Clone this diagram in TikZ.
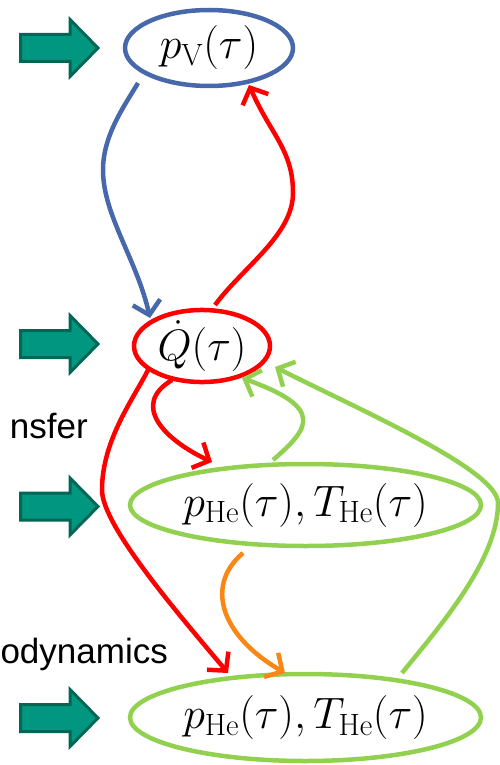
\RequirePackage{fix-cm}
\documentclass[tikz,border=0pt]{standalone}
\usepackage{fontspec}
\newfontfamily\labelfont{Liberation Sans}
\usetikzlibrary{arrows.meta,shapes.geometric,calc}
\definecolor{cblue}{RGB}{72,104,172}
\definecolor{cred}{RGB}{255,0,0}
\definecolor{cgreen}{RGB}{146,208,80}
\definecolor{corange}{RGB}{250,135,20}
\definecolor{tealfill}{RGB}{0,150,128}
\definecolor{tealedge}{RGB}{0,102,85}
\begin{document}
\begin{tikzpicture}[x=1pt,y=-1pt,
  state/.style={ellipse, draw, line width=4.5pt, inner sep=0pt, font=\fontsize{44}{50}\selectfont},
  conn/.style={line width=4.5pt, line cap=butt, -{Straight Barb[length=13pt,width=28pt]}},
  blockarrow/.style={fill=tealfill, draw=tealedge, line width=3pt, line join=miter},
  side/.style={font=\labelfont\fontsize{35}{40}\selectfont, anchor=base east, inner sep=0pt}]
\useasboundingbox (0,0) rectangle (500,765);

% block arrows
\foreach \c in {48,344,506.5,718}
  \draw[blockarrow, shift={(0,\c)}] (20.5,-13.5) -- (70,-13.5) -- (70,-28.5) -- (98,0) -- (70,28.5) -- (70,13.5) -- (20.5,13.5) -- cycle;

% side labels
\node[side] (ht) at (88,438) {nsfer};
\node[side] (td) at (168,663) {odynamics};

% states
\node[state, draw=cblue, minimum width=168pt, minimum height=76pt] (pv) at (209,48) {$p_{\mathrm{V}}(\tau)$};
\node[state, draw=cred, minimum width=136pt, minimum height=64pt] (q) at (202,346) {$\dot{Q}(\tau)$};
\node[state, draw=cgreen, minimum width=351pt, minimum height=82pt] (he1) at (305.5,505) {$p_{\mathrm{He}}(\tau),T_{\mathrm{He}}(\tau)$};
\node[state, draw=cgreen, minimum width=351pt, minimum height=87pt] (he2) at (305.5,717.5) {$p_{\mathrm{He}}(\tau),T_{\mathrm{He}}(\tau)$};

% connectors
\draw[conn, cblue] ($(pv)+(-71,35)$) .. controls (125,105) and (103,135) .. (103,170)
  .. controls (103,215) and (137,260) .. ($(q)+(-52,-28)$);
\draw[conn, cred] ($(q)+(13,-41)$) .. controls (243,267) and (293,235) .. (293,193)
  .. controls (293,150) and (271,135) .. ($(pv)+(40,37)$);
\draw[conn, cred] ($(q)+(-54,24)$) .. controls (134,398) and (102,440) .. (102,490)
  .. controls (102,525) and (175,610) .. ($(he2)+(-77.5,-44.5)$);
\draw[conn, cred] ($(q)+(-30,34)$) .. controls (130,405) and (165,440) .. ($(he1)+(-93.5,-43)$);
\draw[conn, cgreen] ($(he1)+(-32.5,-45)$) .. controls (310,428) and (325,408) .. ($(q)+(40,32)$);
\draw[conn, cgreen] ($(he2)+(96.5,-44.5)$) .. controls (440,626) and (498,560) .. (498,503)
  .. controls (498,470) and (360,410) .. ($(q)+(73,21)$);
\draw[conn, corange] ($(he1)+(-62.5,48)$) .. controls (205,585) and (220,635) .. ($(he2)+(-20.5,-44.5)$);
\end{tikzpicture}
\end{document}
